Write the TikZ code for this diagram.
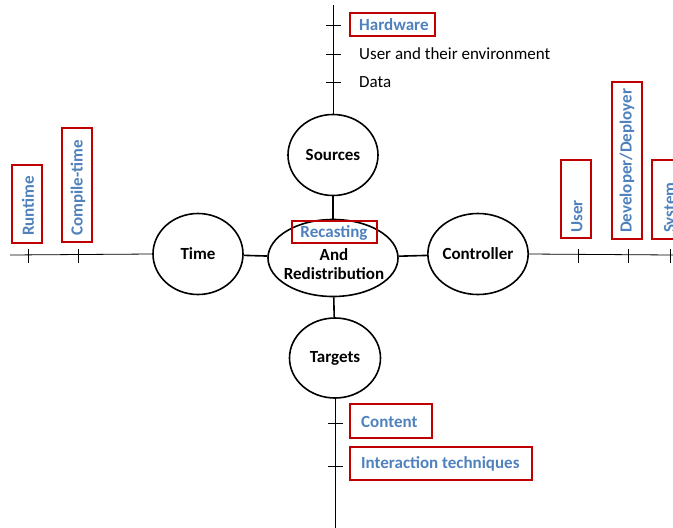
\documentclass[tikz,border=0pt]{standalone}
\usepackage{fontspec}
\setmainfont{Carlito}
\usetikzlibrary{shapes.geometric}
\definecolor{lblue}{RGB}{79,129,189}
\definecolor{bred}{RGB}{192,0,0}
\begin{document}
\begin{tikzpicture}[x=1pt,y=-1pt,
  oval/.style={ellipse,draw,line width=1.6pt,inner sep=0pt,font=\bfseries\fontsize{17}{19}\selectfont},
  axis/.style={line width=0.8pt},
  tick/.style={line width=0.8pt},
  redbox/.style={draw=bred,line width=1.6pt},
  blab/.style={text=lblue,font=\bfseries\fontsize{17}{19}\selectfont,inner sep=0pt},
  plab/.style={text=black,font=\fontsize{17}{19}\selectfont,inner sep=0pt,anchor=west}]
\clip (0,0) rectangle (673,528);
\useasboundingbox (0,0) rectangle (673,528);
% ellipses
\node[oval,minimum width=90,minimum height=81] (src) at (333,155) {Sources};
\node[oval,minimum width=130,minimum height=77] (ctr) at (333,258) {};
\node[oval,minimum width=90,minimum height=81] (time) at (198,254) {Time};
\node[oval,minimum width=94,minimum height=81] (con) at (478,254) {Controller};
\node[oval,minimum width=91,minimum height=80] (tgt) at (335,358) {Targets};
% center text
\node[blab] (rec) at (334,233) {Recasting};
\node[font=\bfseries\fontsize{17}{19}\selectfont,align=center,inner sep=0pt] (and) at (334,264) {And\\Redistribution};
\draw[redbox] (292,221) rectangle (377,243);
% connectors
\draw[line width=1.6pt] (src) -- (ctr);
\draw[line width=1.6pt] (ctr) -- (tgt);
\draw[line width=1.6pt] (time) -- (ctr);
\draw[line width=1.6pt] (ctr) -- (con);
% axes
\coordinate (topend) at (333,5);
\coordinate (botend) at (335,528);
\coordinate (leftend) at (10,255);
\coordinate (rightend) at (673,255);
\draw[axis] (src.north) -- (topend);
\draw[axis] (tgt.south) -- (botend);
\draw[axis] (time.west) -- (leftend);
\draw[axis] (con.east) -- (rightend);
% ticks top
\foreach \y in {25,54,82} \draw[tick] (326,\y) -- (341,\y);
% ticks bottom
\foreach \y in {423,466} \draw[tick] (328,\y) -- (343,\y);
% ticks left/right
\foreach \x in {28,78,578,628,670} \draw[tick] (\x,249) -- (\x,263);
% top labels
\node[blab,anchor=west] (hw) at (359,25) {Hardware};
\draw[redbox] (350,13) rectangle (435,36);
\node[plab] (usr) at (359,54) {User and their environment};
\node[plab] (data) at (359,82) {Data};
% bottom labels
\node[blab,anchor=west] (cont) at (361,422) {Content};
\draw[redbox] (350,404) rectangle (432,438);
\node[blab,anchor=west] (inter) at (361,464) {Interaction techniques};
\draw[redbox] (350,447) rectangle (532,480);
% left labels
\node[blab,rotate=90,anchor=west] (rt) at (28,236) {Runtime};
\draw[redbox] (12,165) rectangle (42,243);
\node[blab,rotate=90,anchor=west] (ct) at (78,236) {Compile-time};
\draw[redbox] (62,128) rectangle (92,242);
% right labels
\node[blab,rotate=90,anchor=west] (ur) at (577,233) {User};
\draw[redbox] (561,160) rectangle (591,238);
\node[blab,rotate=90,anchor=west] (dev) at (627,233) {Developer/Deployer};
\draw[redbox] (612,82) rectangle (642,239);
\node[blab,rotate=90,anchor=west] (sys) at (671,233) {System};
\draw[redbox] (652,160) rectangle (690,239);
\end{tikzpicture}
\end{document}
